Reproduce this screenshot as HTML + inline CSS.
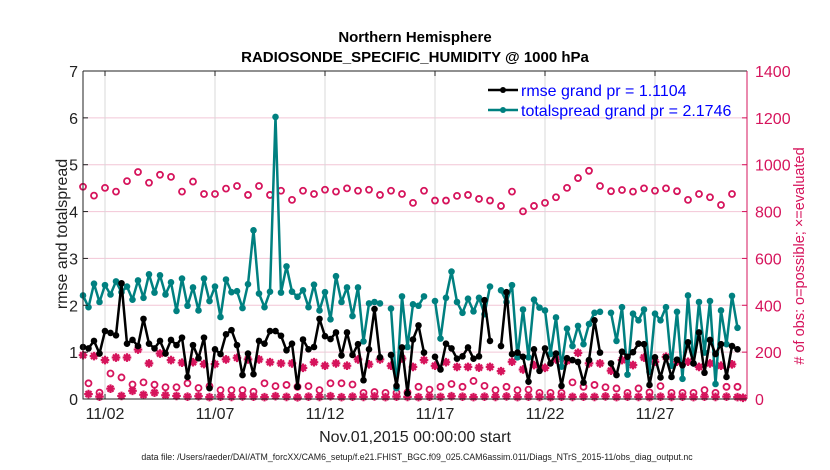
<!DOCTYPE html>
<html><head><meta charset="utf-8"><style>
body{margin:0;background:#fff;}
svg{display:block;font-family:"Liberation Sans",Arial,sans-serif;}
</style></head><body>
<svg id="chart" width="830" height="470">
<g id="grid"></g>
<g id="marks"></g>
<g id="axes"></g>
<text x="415" y="42" text-anchor="middle" font-size="15" font-weight="bold">Northern Hemisphere</text>
<text x="415" y="62" text-anchor="middle" font-size="15" font-weight="bold">RADIOSONDE_SPECIFIC_HUMIDITY @ 1000 hPa</text>
<text x="415" y="442" text-anchor="middle" font-size="16" fill="#222">Nov.01,2015 00:00:00 start</text>
<text x="417" y="460" text-anchor="middle" font-size="8.8" fill="#222">data file: /Users/raeder/DAI/ATM_forcXX/CAM6_setup/f.e21.FHIST_BGC.f09_025.CAM6assim.011/Diags_NTrS_2015-11/obs_diag_output.nc</text>
<text transform="translate(67,234) rotate(-90)" text-anchor="middle" font-size="16" fill="#222">rmse and totalspread</text>
<text transform="translate(804,256) rotate(-90)" text-anchor="middle" font-size="14.5" fill="#d6145c"># of obs: o=possible; ×=evaluated</text>
<g>
<line x1="488" y1="90" x2="518" y2="90" stroke="#000" stroke-width="2.5"/>
<circle cx="503" cy="90" r="3" fill="#000"/>
<text x="521" y="96" font-size="16" fill="#0000ff">rmse grand pr = 1.1104</text>
<line x1="488" y1="110" x2="518" y2="110" stroke="#008080" stroke-width="2.5"/>
<circle cx="503" cy="110" r="3" fill="#008080"/>
<text x="521" y="116" font-size="16" fill="#0000ff">totalspread grand pr = 2.1746</text>
</g>
</svg>
<script>
const rmse=[1.11,1.08,1.24,0.97,1.45,1.41,1.36,2.47,1.18,1.26,1.13,1.71,1.18,1.08,1.24,0.97,1.26,1.15,1.31,0.47,1.15,0.87,1.31,0.23,1.06,0.96,1.38,1.47,1.15,0.51,0.97,
0.53,1.24,1.18,1.45,1.45,1.35,1.04,1.18,0.26,1.27,1.06,1.11,1.71,1.34,1.28,1.42,0.93,1.42,0.94,1.17,0.40,1.06,1.92,0.89,null,0.94,0.28,1.10,0.12,1.27,
1.57,0.99,null,0.90,0.63,1.18,1.08,0.86,0.91,1.10,0.86,0.91,2.11,1.24,null,1.13,2.28,0.96,0.99,0.90,0.37,1.06,0.60,1.08,0.76,0.97,0.28,0.87,0.83,0.79,0.35,
0.83,1.68,0.99,null,0.76,0.51,1.01,0.90,1.00,1.18,1.17,0.30,0.89,0.46,0.89,0.47,0.84,0.72,1.21,0.76,1.42,0.56,1.26,0.96,1.17,0.47,1.13,1.06,null];
const spread=[2.21,1.96,2.46,2.07,2.43,2.23,2.51,2.28,2.40,2.12,2.53,2.16,2.66,2.27,2.64,2.23,2.49,1.88,2.57,1.99,2.38,1.89,2.57,2.09,2.40,1.75,2.55,2.28,2.30,1.94,2.45,
3.60,2.25,1.96,2.29,6.02,2.27,2.83,2.29,2.18,2.32,1.96,2.44,1.89,2.28,1.70,2.62,2.07,2.38,1.77,2.38,1.23,2.04,2.07,2.04,null,1.93,0.23,2.19,1.11,2.02,
1.99,2.19,null,2.09,1.29,2.16,2.72,2.07,1.84,2.14,1.87,2.16,1.81,2.40,null,2.32,2.07,2.43,0.89,1.91,0.89,2.12,1.95,1.89,0.96,1.74,0.69,1.50,1.13,1.56,1.17,
1.60,1.84,1.86,null,1.84,1.24,1.96,0.52,1.82,1.68,1.91,0.58,1.82,1.68,1.96,0.71,1.86,0.43,2.21,0.76,2.07,0.99,2.09,0.32,1.89,1.17,2.20,1.52,null];
const possible=[906,67,868,27,901,109,885,92,930,62,969,71,923,61,957,50,948,50,885,67,928,47,875,55,875,38,898,38,909,38,871,
31,909,67,871,55,889,60,850,52,889,55,875,38,893,67,885,67,899,62,889,26,893,30,871,26,889,26,875,28,837,
52,889,40,847,52,847,64,867,52,871,77,854,56,847,38,824,52,885,38,801,40,824,26,837,26,861,26,901,71,943,52,
974,60,909,50,887,45,892,26,885,45,899,28,889,55,899,26,887,26,850,26,875,38,861,26,828,52,875,52,null];
const evaluated=[187,21,183,10,166,44,177,13,177,35,211,18,152,27,194,16,166,13,155,10,157,12,149,8,149,10,169,9,176,11,169,
10,169,8,157,12,152,9,152,7,133,10,157,9,142,12,152,8,142,10,169,9,148,11,169,8,142,10,173,9,137,
8,166,10,142,9,157,12,137,10,137,8,134,10,137,9,119,11,159,8,126,10,145,9,133,8,169,10,163,9,197,10,
152,9,152,11,121,8,166,10,145,9,177,8,159,10,180,9,159,10,159,8,137,10,152,9,142,10,148,8,5];
const leftTicks=[0,1,2,3,4,5,6,7];
const rightTicks=[0,200,400,600,800,1000,1200,1400];
const dateTicks=[1,6,11,16,21,26];
const dateLabels=["11/02","11/07","11/12","11/17","11/22","11/27"];

const NS="http://www.w3.org/2000/svg";
const X0=83,X1=747,Y0=399,Y1=71;
const xDay=d=>X0+d*22;
const xIdx=i=>xDay(i*0.25);
const yL=v=>Y0-(v/7)*(Y0-Y1);
const yR=v=>Y0-(v/1400)*(Y0-Y1);
function mk(tag,attrs,parent){const e=document.createElementNS(NS,tag);for(const k in attrs)e.setAttribute(k,attrs[k]);parent.appendChild(e);return e;}
const grid=document.getElementById('grid'),marks=document.getElementById('marks'),axes=document.getElementById('axes');
const RED="#d6145c",TEAL="#008080";

leftTicks.forEach(v=>{
  const l=mk('line',{x1:X0,x2:X1,y1:yL(v),y2:yL(v),stroke:'#f2c6d6','stroke-width':1},grid);
  
  
  const t=mk('text',{x:X0-5,y:yL(v)+6,'text-anchor':'end','font-size':16,fill:'#222'},axes);
  t.textContent=v;
  
  
  mk('line',{x1:X0,x2:X0+5,y1:yL(v),y2:yL(v),stroke:'#222'},axes);
});
rightTicks.forEach(v=>{
  const t=mk('text',{x:X1+8,y:yR(v)+6,'font-size':16,fill:RED},axes);
  t.textContent=v;
  
  
  mk('line',{x1:X1-5,x2:X1,y1:yR(v),y2:yR(v),stroke:RED},axes);
});
dateTicks.forEach((d,k)=>{
  const l=mk('line',{x1:xDay(d),x2:xDay(d),y1:Y1,y2:Y0,stroke:'#d8d8d8'},grid);
  
  
  mk('line',{x1:xDay(d),x2:xDay(d),y1:Y0,y2:Y0-5,stroke:'#222'},axes);
  mk('line',{x1:xDay(d),x2:xDay(d),y1:Y1,y2:Y1+5,stroke:'#222'},axes);
  const t=mk('text',{x:xDay(d),y:Y0+20,'text-anchor':'middle','font-size':16,fill:'#222'},axes);
  t.textContent=dateLabels[k];
  
  
});
const frame=mk('path',{d:`M${X0},${Y1}H${X1}M${X0},${Y1}V${Y0}H${X1}`,stroke:'#222',fill:'none'},axes);


const ra=mk('line',{x1:X1,x2:X1,y1:Y1,y2:Y0,stroke:RED},axes);



possible.forEach((v,i)=>{
  if(v==null)return;
  const c=mk('circle',{cx:xIdx(i),cy:yR(v),r:3,fill:'none',stroke:RED,'stroke-width':1.8},marks);
  
  
});
evaluated.forEach((v,i)=>{
  if(v==null)return;
  const cx=xIdx(i),cy=yR(v),r=4.3;
  const d=`M${cx-r},${cy}H${cx+r}M${cx},${cy-r}V${cy+r}M${cx-r*0.7},${cy-r*0.7}L${cx+r*0.7},${cy+r*0.7}M${cx-r*0.7},${cy+r*0.7}L${cx+r*0.7},${cy-r*0.7}`;
  const p=mk('path',{d:d,stroke:RED,'stroke-width':2.2,fill:'none'},marks);
  
  
});
function series(arr,color,name){
  let d='',pen=false;
  arr.forEach((v,i)=>{if(v==null){pen=false;return;}d+=(pen?'L':'M')+xIdx(i)+','+yL(v);pen=true;});
  const p=mk('path',{d:d,fill:'none',stroke:color,'stroke-width':2.5,'stroke-linejoin':'round'},marks);
  
  
  arr.forEach((v,i)=>{
    if(v==null)return;
    const c=mk('circle',{cx:xIdx(i),cy:yL(v),r:3.3,fill:color},marks);
    
    
  });
}
series(spread,TEAL,'totalspread');
series(rmse,'#000','rmse');
</script>
</body></html>
